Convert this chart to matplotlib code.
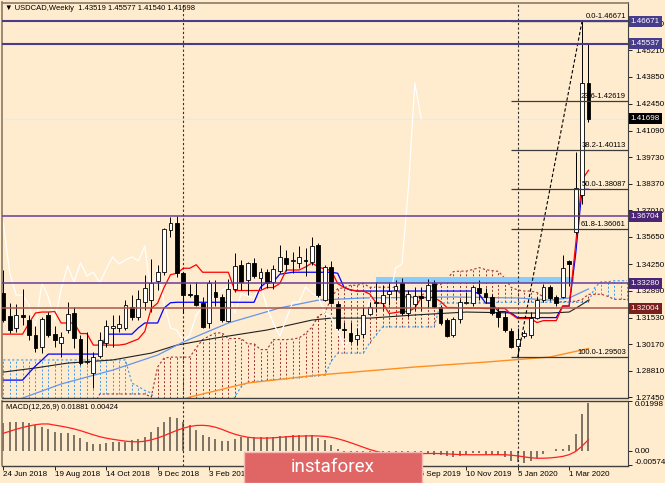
import numpy as np
import pandas as pd
import matplotlib
matplotlib.use("Agg")
import matplotlib.pyplot as plt
from matplotlib.patches import Rectangle
from matplotlib.transforms import blended_transform_factory

plt.rcParams['font.family'] = ['Liberation Sans', 'DejaVu Sans']

# weekly USDCAD candles, week of 24 Jun 2018 .. week of 22 Mar 2020
opens = [1.3278, 1.3161, 1.3099, 1.3166, 1.3140, 1.3063, 1.3002, 1.3166, 1.3068, 1.3023,
         1.3089, 1.3176, 1.3043, 1.2925, 1.2869, 1.2956, 1.3023, 1.3099, 1.3099, 1.3099,
         1.3207, 1.3155, 1.3232, 1.3242, 1.3340, 1.3386, 1.3601, 1.3636, 1.3381, 1.3273,
         1.3268, 1.3227, 1.3124, 1.3283, 1.3258, 1.3135, 1.3299, 1.3422, 1.3345, 1.3432,
         1.3355, 1.3386, 1.3335, 1.3391, 1.3457, 1.3442, 1.3432, 1.3447, 1.3437, 1.3524,
         1.3242, 1.3411, 1.3222, 1.3094, 1.3073, 1.3043, 1.3068, 1.3171, 1.3227, 1.3227,
         1.3273, 1.3294, 1.3329, 1.3176, 1.3222, 1.3263, 1.3242, 1.3329, 1.3207, 1.3140,
         1.3063, 1.3145, 1.3227, 1.3227, 1.3304, 1.3278, 1.3258, 1.3181, 1.3155, 1.3084,
         1.3007, 1.3058, 1.3063, 1.3150, 1.3242, 1.3309, 1.3258, 1.3258, 1.3442, 1.3590,
         1.3780, 1.43519]
highs = [1.3396, 1.3227, 1.3222, 1.3299, 1.3166, 1.3109, 1.3155, 1.3181, 1.3109, 1.3079,
         1.3232, 1.3207, 1.3063, 1.3079, 1.2977, 1.3079, 1.3140, 1.3166, 1.3166, 1.3242,
         1.3268, 1.3294, 1.3371, 1.3452, 1.3422, 1.3611, 1.3665, 1.3670, 1.3386, 1.3324,
         1.3335, 1.3258, 1.3345, 1.3345, 1.3273, 1.3350, 1.3483, 1.3447, 1.3437, 1.3457,
         1.3406, 1.3401, 1.3422, 1.3524, 1.3498, 1.3488, 1.3519, 1.3509, 1.3565, 1.3534,
         1.3422, 1.3442, 1.3232, 1.3130, 1.3130, 1.3099, 1.3207, 1.3232, 1.3335, 1.3319,
         1.3335, 1.3345, 1.3355, 1.3294, 1.3309, 1.3309, 1.3350, 1.3345, 1.3217, 1.3150,
         1.3155, 1.3247, 1.3283, 1.3319, 1.3345, 1.3304, 1.3273, 1.3207, 1.3181, 1.3099,
         1.3099, 1.3089, 1.3181, 1.3258, 1.3324, 1.3319, 1.3268, 1.3473, 1.3447, 1.3999,
         1.46671, 1.45577]
lows = [1.3130, 1.3073, 1.3079, 1.3115, 1.3038, 1.2977, 1.2971, 1.3053, 1.3002, 1.2951,
        1.3073, 1.2997, 1.2910, 1.2915, 1.2792, 1.2946, 1.3002, 1.3002, 1.3079, 1.3089,
        1.3140, 1.3140, 1.3191, 1.3181, 1.3294, 1.3371, 1.3565, 1.3360, 1.3176, 1.3258,
        1.3212, 1.3099, 1.3099, 1.3212, 1.3130, 1.3130, 1.3283, 1.3294, 1.3268, 1.3355,
        1.3299, 1.3304, 1.3299, 1.3381, 1.3391, 1.3381, 1.3406, 1.3365, 1.3422, 1.3258,
        1.3237, 1.3222, 1.3089, 1.3048, 1.3023, 1.3012, 1.3048, 1.3166, 1.3181, 1.3191,
        1.3217, 1.3242, 1.3166, 1.3155, 1.3191, 1.3191, 1.3201, 1.3201, 1.3115, 1.3053,
        1.3053, 1.3124, 1.3222, 1.3212, 1.3242, 1.3227, 1.3166, 1.3104, 1.3079, 1.2995,
        1.29503, 1.3048, 1.3048, 1.3145, 1.3232, 1.3242, 1.3212, 1.3253, 1.3314, 1.3580,
        1.3735, 1.41540]
closes = [1.3140, 1.3089, 1.3166, 1.3155, 1.3063, 1.2997, 1.3145, 1.3063, 1.3038, 1.3053,
          1.3171, 1.3048, 1.2920, 1.2930, 1.2951, 1.3038, 1.3109, 1.3109, 1.3120, 1.3217,
          1.3155, 1.3247, 1.3304, 1.3329, 1.3386, 1.3606, 1.3636, 1.3381, 1.3268, 1.3268,
          1.3217, 1.3104, 1.3329, 1.3258, 1.3140, 1.3299, 1.3417, 1.3335, 1.3432, 1.3365,
          1.3386, 1.3329, 1.3401, 1.3463, 1.3427, 1.3447, 1.3463, 1.3442, 1.3519, 1.3268,
          1.3411, 1.3227, 1.3099, 1.3089, 1.3033, 1.3063, 1.3166, 1.3207, 1.3232, 1.3268,
          1.3289, 1.3314, 1.3176, 1.3275, 1.3263, 1.3253, 1.3319, 1.3207, 1.3124, 1.3058,
          1.3145, 1.3232, 1.3232, 1.3309, 1.3278, 1.3258, 1.3176, 1.3155, 1.3089, 1.3002,
          1.3043, 1.3073, 1.3150, 1.3242, 1.3309, 1.3253, 1.3227, 1.3406, 1.3427, 1.3815,
          1.43519, 1.41698]

# ichimoku values before enough history is on the chart
tenkan_head = [1.3068, 1.3068, 1.3068, 1.3068, 1.3125, 1.3176, 1.3181, 1.3181]
kijun_head = [1.2833, 1.2833, 1.2833, 1.2833, 1.2870, 1.2905, 1.2935, 1.2966, 1.2966,
              1.2966, 1.2966, 1.2966, 1.2966, 1.2966, 1.2966, 1.2966, 1.3068, 1.3068,
              1.3068, 1.3068, 1.3068, 1.3100, 1.3125, 1.3125, 1.3125]
span_a_head = [1.2700] * 15 + [1.2762] * 8 + [1.2746, 1.2900, 1.2945]
span_b_head = ([1.2936] * 20 + [1.2818, 1.2800, 1.2780, 1.2767] + [1.2700] * 12 +
               [1.2746, 1.2800, 1.2823, 1.2826, 1.2828, 1.2832, 1.2835, 1.2838, 1.2840,
                1.2843, 1.2846, 1.2850, 1.2853, 1.2856, 1.2859, 1.2930] +
               [1.2971] * 5 + [1.3025, 1.3065] + [1.3105] * 9 + [1.3227] * 9)

# moving averages, read at a few bars
ma_fast_idx = [0, 3, 9, 17, 24, 28, 35, 43, 49, 56, 70, 80, 85, 88, 91]
ma_fast = [1.2700, 1.2741, 1.2813, 1.2884, 1.2961, 1.3028, 1.3125, 1.3202, 1.3242,
           1.3253, 1.3258, 1.3253, 1.3242, 1.3253, 1.3299]
ma_mid_idx = [0, 5, 10, 17, 23, 27, 33, 41, 48, 51, 57, 64, 72, 80, 85, 88, 89, 90, 91]
ma_mid = [1.2874, 1.2895, 1.2920, 1.2936, 1.2971, 1.3012, 1.3048, 1.3089, 1.3140, 1.3150,
          1.3150, 1.3166, 1.3181, 1.3176, 1.3176, 1.3181, 1.3200, 1.3220, 1.3242]
ma_long_idx = [26, 29, 38, 49, 64, 75, 85, 90, 91]
ma_long = [1.2715, 1.2746, 1.2818, 1.2859, 1.2900, 1.2925, 1.2951, 1.2987, 1.2995]

# MACD main line (histogram) and signal before 9 bars exist
macd = [0.0110, 0.0114, 0.0114, 0.0114, 0.0110, 0.0103, 0.0094, 0.0086, 0.0076, 0.0072,
        0.0070, 0.0063, 0.0050, 0.0037, 0.0028, 0.0028, 0.0033, 0.0037, 0.0037, 0.0037,
        0.0044, 0.0046, 0.0057, 0.0076, 0.0096, 0.0116, 0.0133, 0.0129, 0.0116, 0.0103,
        0.0083, 0.0063, 0.0057, 0.0046, 0.0041, 0.0041, 0.0049, 0.0054, 0.0057, 0.0057,
        0.0057, 0.0057, 0.0057, 0.0058, 0.0060, 0.0063, 0.0063, 0.0063, 0.0063, 0.0050,
        0.0044, 0.0024, 0.0007, -0.0005, -0.0012, -0.0018, -0.0020, -0.0018, -0.0015, -0.0012,
        -0.0010, -0.0008, -0.0008, -0.0008, -0.0006, -0.0010, -0.0012, -0.0014, -0.0016, -0.0020,
        -0.0022, -0.0020, -0.0012, -0.0009, -0.0009, -0.0012, -0.0012, -0.0016, -0.0022, -0.0038,
        -0.0044, -0.0048, -0.0038, -0.0029, -0.0010, -0.0002, 0.0007, 0.0009, 0.0025, 0.0067,
        0.0145, 0.01881]
signal_head = [0.0070, 0.0078, 0.0086, 0.0093, 0.0099, 0.0104, 0.0107, 0.0107]

date_idx = [0, 8, 16, 24, 32, 40, 48, 56, 64, 72, 80, 88]
date_labels = ["24 Jun 2018", "19 Aug 2018", "14 Oct 2018", "9 Dec 2018", "3 Feb 2019",
               "31 Mar 2019", "26 May 2019", "21 Jul 2019", "15 Sep 2019", "10 Nov 2019",
               "5 Jan 2020", "1 Mar 2020"]
year_breaks = [28, 80]

price_ticks = [1.46570, 1.45210, 1.43850, 1.42450, 1.41090, 1.39730, 1.38370, 1.37010,
               1.35650, 1.34250, 1.32890, 1.31530, 1.30170, 1.28810, 1.27450]

level_prices = [1.46671, 1.45537, 1.36704, 1.33280, 1.32004]
level_colors = ['#483D8B', '#483D8B', '#6A3D9A', '#6A3D9A', '#A8584E']
level_box = ['#483D8B', '#483D8B', '#4B2475', '#4B2475', '#7A1E1E']

fib_levels = [0.0, 23.6, 38.2, 50.0, 61.8, 100.0]
fib_low, fib_high = 1.29503, 1.46671
fib_low_bar, fib_high_bar = 80, 90

zone_bars = (58, 88.8)
zone_prices = (1.3328, 1.3358)

BG = '#FFEBCD'

# ---- indicators ----
n = len(closes)
o = np.array(opens); h = np.array(highs); l = np.array(lows); c = np.array(closes)
hs, ls = pd.Series(h), pd.Series(l)
tenkan = ((hs.rolling(9).max() + ls.rolling(9).min()) / 2).values
tenkan[:8] = tenkan_head
kijun = ((hs.rolling(26).max() + ls.rolling(26).min()) / 2).values
kijun[:25] = kijun_head
mid52 = ((hs.rolling(52).max() + ls.rolling(52).min()) / 2).values

n_cloud = n + 6
span_a = np.array([span_a_head[i] if i < 26 else (tenkan[i - 26] + kijun[i - 26]) / 2
                   for i in range(n_cloud)])
span_b = np.array([span_b_head[i] if i < 77 else mid52[i - 26] for i in range(n_cloud)])

signal = pd.Series(macd).rolling(9).mean().values
signal[:8] = signal_head

# ---- figure ----
fig = plt.figure(figsize=(6.65, 4.83), dpi=100, facecolor=BG)
W, H = 665.0, 483.0
ax = fig.add_axes([2 / W, 1 - 397.5 / H, 626 / W, 395 / H], facecolor=BG)
axm = fig.add_axes([2 / W, 1 - 465.5 / H, 626 / W, 65 / H], facecolor=BG)

xmin, xmax = -0.2, 97.15
ax.set_xlim(xmin, xmax)
ax.set_ylim(1.2744, 1.4764)
axm.set_xlim(xmin, xmax)
axm.set_ylim(-0.00574, 0.01998)

# cloud
xc = np.arange(n_cloud)
lo = np.minimum(span_a, span_b)
hi = np.maximum(span_a, span_b)
up_cloud = span_a >= span_b
ax.vlines(xc[up_cloud], lo[up_cloud], hi[up_cloud], colors='#A0302A',
          linestyles=(0, (2, 2)), lw=0.7, zorder=1)
ax.vlines(xc[~up_cloud], lo[~up_cloud], hi[~up_cloud], colors='#3A9AF0',
          linestyles=(0, (2, 2)), lw=0.7, zorder=1)
ax.plot(xc, span_a, color='#A0302A', ls=(0, (2, 2)), lw=0.8, zorder=1.2)
ax.plot(xc, span_b, color='#3A9AF0', ls=(0, (2, 2)), lw=0.8, zorder=1.2)

# zone
ax.add_patch(Rectangle((zone_bars[0], zone_prices[0]), zone_bars[1] - zone_bars[0],
                       zone_prices[1] - zone_prices[0], fc='#87CEFA', ec='none', zorder=1.5))

# moving averages
ax.plot(ma_long_idx, ma_long, color='#FF9020', lw=1.0, zorder=2)
ax.plot(ma_mid_idx, ma_mid, color='#202020', lw=0.8, zorder=2)
ax.plot(ma_fast_idx, ma_fast, color='#6495ED', lw=0.9, zorder=2)

# chikou, tenkan, kijun
x = np.arange(n)
ax.plot(x[:n - 26], c[26:], color='white', lw=0.9, zorder=2.3)
ax.plot(x, kijun, color='#0000FF', lw=0.9, zorder=2.5)
ax.plot(x, tenkan, color='#FF0000', lw=0.9, zorder=2.6)

# period separators
for b in year_breaks:
    ax.axvline(b, color='#303030', ls=(0, (2, 2)), lw=0.8, zorder=2.7)
    axm.axvline(b, color='#303030', ls=(0, (2, 2)), lw=0.8, zorder=2.7)

# candles
ax.vlines(x, l, h, color='black', lw=0.7, zorder=3)
bottoms = np.minimum(o, c)
heights = np.maximum(np.abs(c - o), 0.0002)
ax.bar(x, heights, bottom=bottoms, width=0.6,
       color=np.where(c >= o, 'white', 'black'), edgecolor='black', lw=0.6, zorder=3.1)

# horizontal levels and bid line
for p, col in zip(level_prices, level_colors):
    lw = 1.5 if p > 1.4 else 1.1
    ax.axhline(p, color=col, lw=lw, zorder=4)
ax.axhline(closes[-1], color='#ECE6F4', lw=1.0, zorder=2.2)

# fibonacci
for lev in fib_levels:
    p = fib_high - lev / 100 * (fib_high - fib_low)
    ax.hlines(p, fib_low_bar - 1, xmax, color='#3C3C3C', lw=0.9, zorder=3.5)
    ax.annotate(f"{lev:.1f}-{p:.5f}", xy=(xmax, p), xytext=(-1.5, 0.8),
                textcoords='offset points', ha='right', va='bottom', fontsize=5.5,
                color='black', zorder=5)
ax.plot([fib_low_bar, fib_high_bar], [fib_low, fib_high], color='black',
        ls=(0, (3, 2)), lw=0.8, zorder=3.6)

# right price axis
ax.yaxis.tick_right()
ax.set_yticks(price_ticks)
ax.set_yticklabels([f"{t:.5f}" for t in price_ticks])
ax.tick_params(axis='y', direction='out', length=3, width=0.6, pad=2, labelsize=5.8,
               colors='black')
ax.set_xticks([])

tr = blended_transform_factory(ax.transAxes, ax.transData)
for p, bc in zip(level_prices, level_box):
    ax.text(1.0045, p, f"{p:.5f}", transform=tr, ha='left', va='center', fontsize=5.8,
            color='white', clip_on=False, zorder=6,
            bbox=dict(boxstyle='square,pad=0.22', fc=bc, ec='none'))
ax.text(1.0045, closes[-1], f"{closes[-1]:.5f}", transform=tr, ha='left', va='center',
        fontsize=5.8, color='white', clip_on=False, zorder=6,
        bbox=dict(boxstyle='square,pad=0.22', fc='black', ec='none'))

# MACD panel
axm.vlines(x, 0, macd, color='#5A534A', lw=1.1, zorder=2)
axm.plot(x, signal, color='#FF2020', lw=0.9, zorder=3)
axm.yaxis.tick_right()
axm.set_yticks([0.01998, 0.0, -0.00574])
axm.set_yticklabels(['0.01998', '0.00', '-0.00574'])
axm.tick_params(axis='y', direction='out', length=3, width=0.6, pad=2, labelsize=5.8)
ylabs = axm.get_yticklabels()
ylabs[0].set_va('top')
ylabs[2].set_va('bottom')
axm.set_xticks(date_idx)
axm.set_xticklabels(date_labels)
axm.tick_params(axis='x', direction='out', length=3, width=0.6, pad=1, labelsize=5.8)
for t in axm.get_xticklabels():
    t.set_ha('left')
axm.text(0.006, 0.95, "MACD(12,26,9) 0.01881 0.00424", transform=axm.transAxes,
         ha='left', va='top', fontsize=5.5, zorder=5)

for a in (ax, axm):
    for side in ('left', 'top'):
        a.spines[side].set_color('#8A7A68')
        a.spines[side].set_linewidth(1.2)
    a.spines['right'].set_color('#404040')
    a.spines['right'].set_linewidth(0.8)
    a.spines['bottom'].set_color('#404040')
    a.spines['bottom'].set_linewidth(1.0)
axm.spines['top'].set_color('#404040')
axm.spines['top'].set_linewidth(1.0)

# header
fig.text(5 / W, 1 - 8.5 / H,
         f"\u25BC USDCAD,Weekly  {opens[-1]:.5f} {highs[-1]:.5f} {lows[-1]:.5f} {closes[-1]:.5f}",
         ha='left', va='center', fontsize=5.5, color='black')

# watermark
fig.add_artist(Rectangle((244 / W, 0), 178 / W, 31 / H, transform=fig.transFigure,
                         fc='#E06666', ec='#F3B9B2', lw=1.0, zorder=10))
fig.text(333 / W, 15.5 / H, 'instaforex', color='white', fontsize=13.5,
         family=['Roboto', 'DejaVu Sans'], ha='center', va='center', zorder=11)

fig.savefig('out.png', dpi=100, facecolor=BG)
